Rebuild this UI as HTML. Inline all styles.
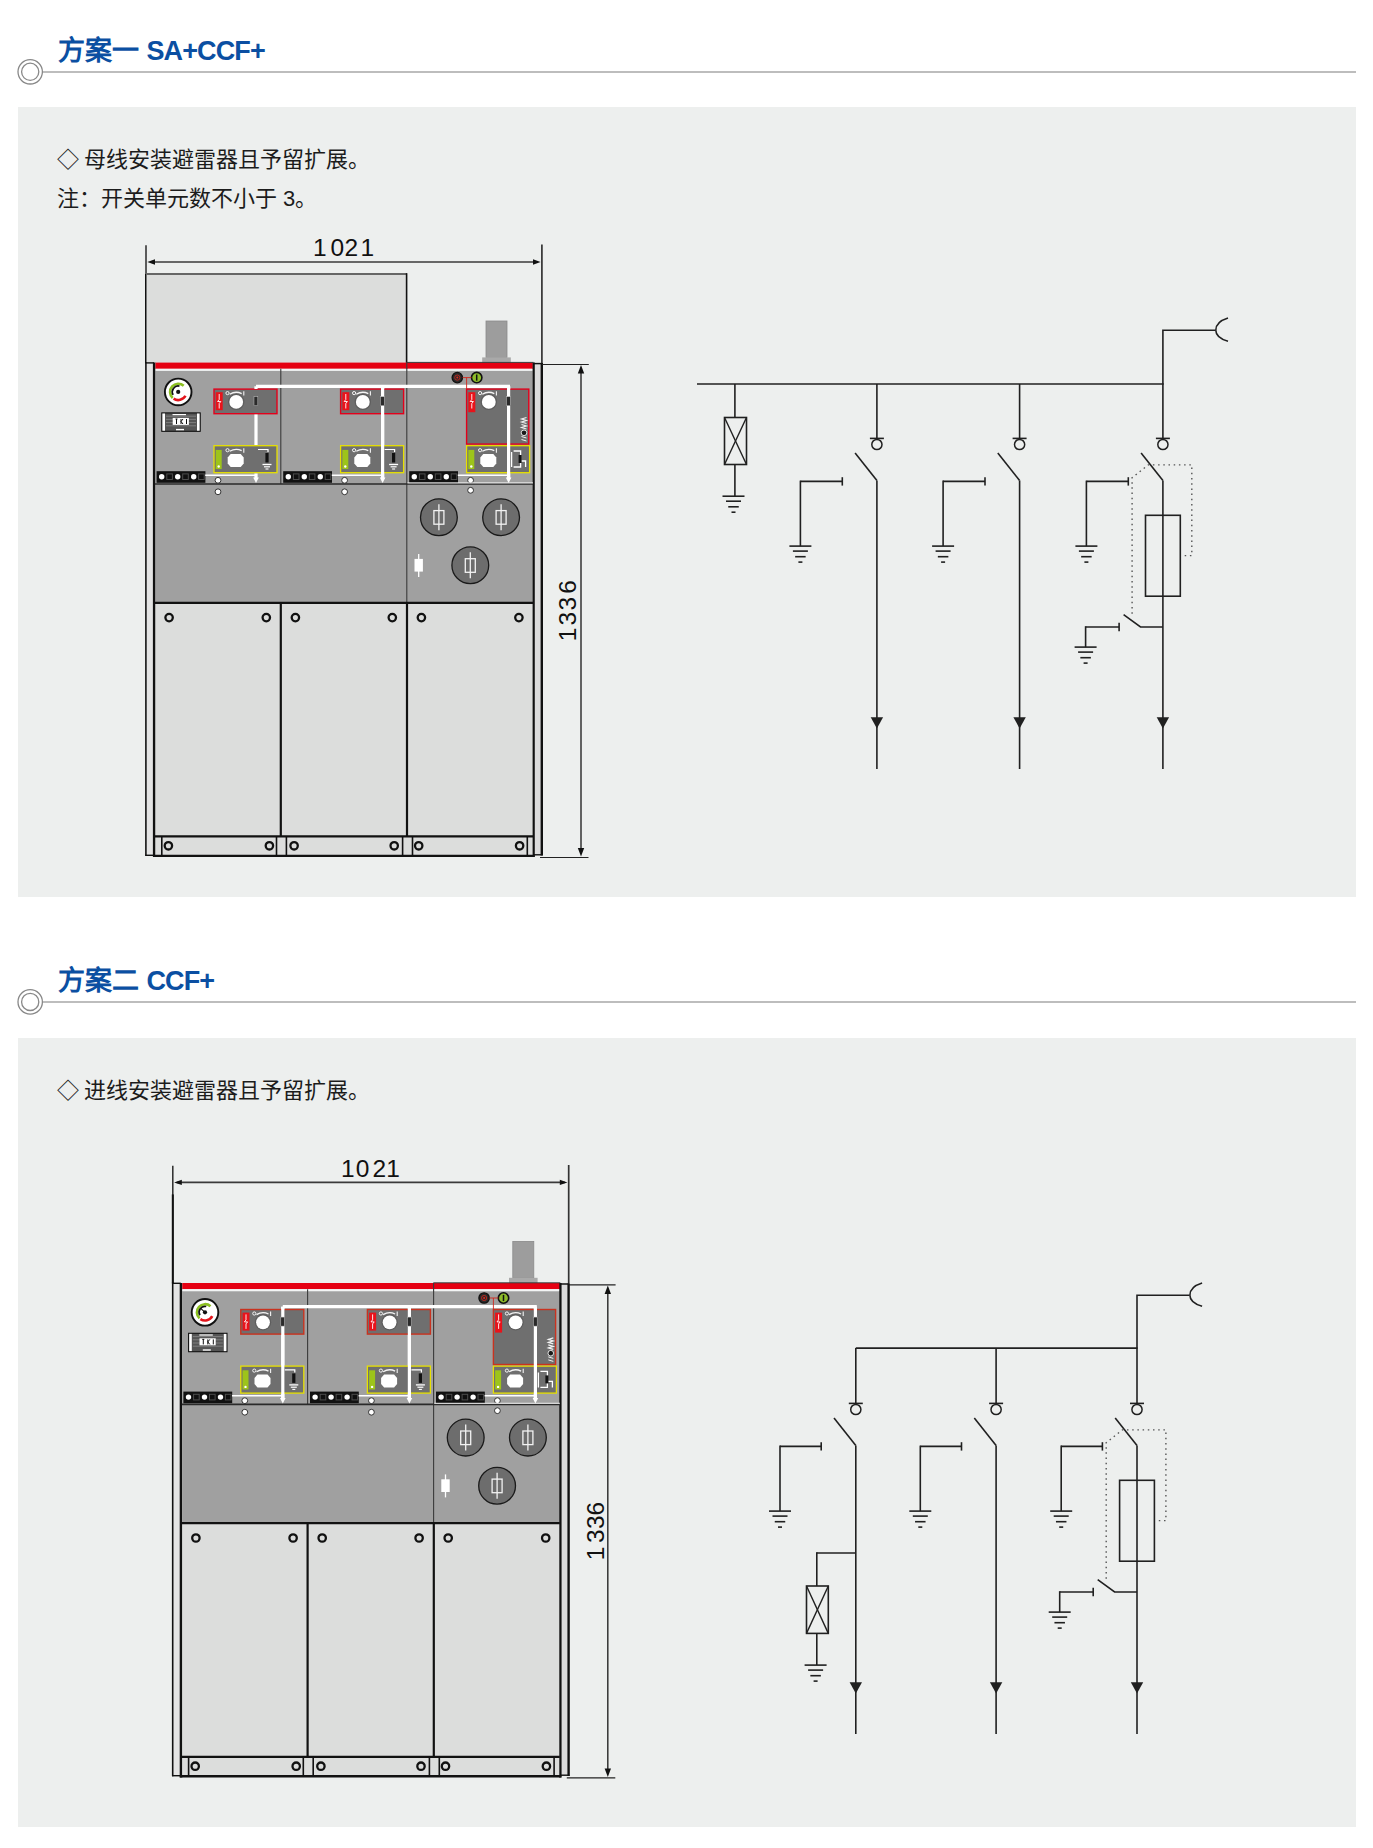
<!DOCTYPE html>
<html lang="zh-CN"><head><meta charset="utf-8"><title>方案</title>
<style>
html,body{margin:0;padding:0;background:#fff;}
body{width:1373px;height:1848px;position:relative;overflow:hidden;font-family:"Liberation Sans",sans-serif;}
.box{position:absolute;left:17.5px;width:1338.5px;background:#edefee;}
.hline{position:absolute;left:43px;width:1313px;height:2px;background:#bdbdbd;}
.title{position:absolute;left:58px;font-weight:bold;color:#0b4fa2;font-size:27px;line-height:30px;white-space:nowrap;}
.txt{position:absolute;left:57px;font-size:22px;line-height:24px;color:#1c1c1c;white-space:nowrap;}
.lt{letter-spacing:-0.9px;}
.dm{display:inline-block;width:27px;}
svg{position:absolute;left:0;top:0;}
</style></head><body>
<div class="box" style="top:107px;height:790px"></div>
<div class="box" style="top:1038px;height:789px"></div>
<div class="hline" style="top:71px"></div>
<div class="hline" style="top:1001px"></div>
<div class="title" style="top:36px">方案一 <span class="lt">SA+CCF+</span></div>
<div class="title" style="top:966px">方案二 <span class="lt">CCF+</span></div>
<div class="txt" style="top:148px"><span class="dm">◇</span>母线安装避雷器且予留扩展。</div>
<div class="txt" style="top:187px">注：开关单元数不小于 3。</div>
<div class="txt" style="top:1079px"><span class="dm">◇</span>进线安装避雷器且予留扩展。</div>
<svg width="1373" height="1848" viewBox="0 0 1373 1848" font-family="Liberation Sans, sans-serif">
<g fill="none" stroke="#888" stroke-width="1.3">
<circle cx="30.2" cy="71.8" r="12.2" fill="#fff"/><circle cx="30.2" cy="71.8" r="8.6"/>
<circle cx="30.2" cy="1001.9" r="12.2" fill="#fff"/><circle cx="30.2" cy="1001.9" r="8.6"/>
</g>
<g id="cab1"><line x1="146" y1="245.3" x2="146" y2="363" stroke="#2a2a2a" stroke-width="1.5"/><line x1="146" y1="274" x2="146" y2="363" stroke="#111" stroke-width="2"/><line x1="541.9" y1="244.6" x2="541.9" y2="363" stroke="#333" stroke-width="1.7"/><line x1="150" y1="262" x2="538" y2="262" stroke="#3a3a3a" stroke-width="1.6"/><path d="M147.3,262 L155,259.3 L155,264.7 Z" fill="#111"/><path d="M540.6,262 L533,259.3 L533,264.7 Z" fill="#111"/><rect x="146.5" y="274" width="260" height="89" fill="#dcdddc"/><line x1="146" y1="274" x2="407" y2="274" stroke="#666" stroke-width="1.9"/><line x1="406.6" y1="273.2" x2="406.6" y2="369" stroke="#111" stroke-width="1.6"/><line x1="406.8" y1="362.6" x2="406.8" y2="484" stroke="#333" stroke-width="1.2"/><rect x="486" y="321" width="21" height="36.4" fill="#9d9d9d" stroke="#8a8a8a" stroke-width="0.8"/><rect x="482.2" y="357.4" width="28.6" height="5.5" fill="#a9a9a9"/><rect x="146.6" y="362.8" width="6.4" height="492.6" fill="#e4e4e4"/><rect x="534.8" y="364.5" width="6" height="490.5" fill="#dcdcdc"/><line x1="533" y1="854.8" x2="542.6" y2="854.8" stroke="#111" stroke-width="1.4"/><line x1="145.9" y1="362.2" x2="145.9" y2="855.8" stroke="#111" stroke-width="1.6"/><line x1="145.2" y1="855.3" x2="154" y2="855.3" stroke="#111" stroke-width="1.4"/><line x1="145.2" y1="362.9" x2="154" y2="362.9" stroke="#111" stroke-width="1.4"/><line x1="154.2" y1="362.5" x2="154.2" y2="857" stroke="#111" stroke-width="2.6"/><line x1="533.5" y1="362.5" x2="533.5" y2="857" stroke="#111" stroke-width="2.6"/><line x1="541.8" y1="363" x2="541.8" y2="855.5" stroke="#111" stroke-width="2.4"/><line x1="533" y1="363.6" x2="542.5" y2="363.6" stroke="#111" stroke-width="1.5"/><rect x="155.5" y="362.6" width="377" height="6.2" fill="#e50012"/><line x1="406.5" y1="362.4" x2="533.5" y2="362.4" stroke="#3a3a3a" stroke-width="1"/><rect x="155.5" y="368.8" width="377" height="2.1" fill="#f3f5f5"/><rect x="155.5" y="370.9" width="377" height="231.6" fill="#a0a0a0"/><line x1="406.8" y1="362.6" x2="406.8" y2="602" stroke="#3a3a3a" stroke-width="1.1"/><line x1="280.8" y1="368.8" x2="280.8" y2="484" stroke="#3a3a3a" stroke-width="1.1"/><line x1="155" y1="484" x2="533" y2="484" stroke="#2a2a2a" stroke-width="1.6"/><rect x="155.5" y="603" width="377" height="252.8" fill="#dcdddc"/><line x1="155" y1="602.8" x2="533" y2="602.8" stroke="#111" stroke-width="2.2"/><line x1="280.8" y1="602.8" x2="280.8" y2="836.4" stroke="#111" stroke-width="2.2"/><line x1="407" y1="602.8" x2="407" y2="836.4" stroke="#111" stroke-width="2.2"/><circle cx="169.1" cy="617.6" r="3.7" fill="#dcdddc" stroke="#111" stroke-width="2.3"/><circle cx="266.3" cy="617.6" r="3.7" fill="#dcdddc" stroke="#111" stroke-width="2.3"/><circle cx="295.4" cy="617.6" r="3.7" fill="#dcdddc" stroke="#111" stroke-width="2.3"/><circle cx="392.3" cy="617.6" r="3.7" fill="#dcdddc" stroke="#111" stroke-width="2.3"/><circle cx="421.4" cy="617.6" r="3.7" fill="#dcdddc" stroke="#111" stroke-width="2.3"/><circle cx="518.9" cy="617.6" r="3.7" fill="#dcdddc" stroke="#111" stroke-width="2.3"/><line x1="155" y1="836.4" x2="533" y2="836.4" stroke="#111" stroke-width="2.2"/><line x1="153" y1="855.9" x2="534.5" y2="855.9" stroke="#111" stroke-width="2.4"/><line x1="161.8" y1="836.4" x2="161.8" y2="855.9" stroke="#111" stroke-width="1.6"/><line x1="276.5" y1="836.4" x2="276.5" y2="855.9" stroke="#111" stroke-width="1.6"/><line x1="286.4" y1="836.4" x2="286.4" y2="855.9" stroke="#111" stroke-width="1.6"/><line x1="402.6" y1="836.4" x2="402.6" y2="855.9" stroke="#111" stroke-width="1.6"/><line x1="412.5" y1="836.4" x2="412.5" y2="855.9" stroke="#111" stroke-width="1.6"/><line x1="527.3" y1="836.4" x2="527.3" y2="855.9" stroke="#111" stroke-width="1.6"/><circle cx="168.4" cy="845.8" r="3.7" fill="#dcdddc" stroke="#111" stroke-width="2.3"/><circle cx="269.4" cy="845.8" r="3.7" fill="#dcdddc" stroke="#111" stroke-width="2.3"/><circle cx="294.1" cy="845.8" r="3.7" fill="#dcdddc" stroke="#111" stroke-width="2.3"/><circle cx="394.2" cy="845.8" r="3.7" fill="#dcdddc" stroke="#111" stroke-width="2.3"/><circle cx="418.7" cy="845.8" r="3.7" fill="#dcdddc" stroke="#111" stroke-width="2.3"/><circle cx="519.6" cy="845.8" r="3.7" fill="#dcdddc" stroke="#111" stroke-width="2.3"/><line x1="542" y1="364.5" x2="588.8" y2="364.5" stroke="#222" stroke-width="1.2"/><line x1="540" y1="857.5" x2="588.5" y2="857.5" stroke="#222" stroke-width="1.2"/><line x1="581" y1="368" x2="581" y2="853" stroke="#333" stroke-width="1.5"/><path d="M581,365 L577.8,373.5 L584.2,373.5 Z" fill="#111"/><path d="M581,856.5 L577.8,848 L584.2,848 Z" fill="#111"/><line x1="256" y1="386.3" x2="510" y2="386.3" stroke="#fff" stroke-width="3.2"/><rect x="214" y="445.7" width="63" height="27" fill="#6f6f6f" stroke="#e6e000" stroke-width="1.3"/><rect x="214" y="389.1" width="63" height="24.6" fill="#6f6f6f" stroke="#e3001b" stroke-width="1.4"/><line x1="256" y1="386.3" x2="256" y2="389" stroke="#fff" stroke-width="3.2"/><line x1="256" y1="414.5" x2="256" y2="445" stroke="#fff" stroke-width="3.2"/><line x1="256" y1="473.5" x2="256" y2="479" stroke="#fff" stroke-width="3.2"/><path d="M253.2,477.5 L258.8,477.5 L256,483 Z" fill="#fff"/><rect x="254" y="396.7" width="3.8" height="9" fill="#2a2a2a" stroke="#bbb" stroke-width="0.5"/><rect x="215.7" y="392.2" width="7" height="18" fill="#e8131b"/><path d="M219.2,394 L219.2,399.5 L217.6,401.5 L220.8,401.5 L219.2,403.5 L219.2,408.5" fill="none" stroke="#fff" stroke-width="0.9"/><circle cx="236.2" cy="401.9" r="8.2" fill="#5e5e5e"/><circle cx="236.2" cy="401.9" r="6.9" fill="#fff"/><circle cx="227.5" cy="393.1" r="1.6" fill="none" stroke="#f4f4f4" stroke-width="1"/><path d="M229.7,394.2 Q235.7,390.6 241.7,393.6" fill="none" stroke="#f4f4f4" stroke-width="1.3"/><line x1="243.8" y1="391.2" x2="243.8" y2="395.6" stroke="#f4f4f4" stroke-width="1.1"/><rect x="215.7" y="449.9" width="6" height="19.2" fill="#9dc41a"/><circle cx="218.7" cy="466.5" r="1.2" fill="#fff"/><path d="M230.7,454.1 L240.7,454.1 L243.7,457.6 L243.7,463.6 L240.7,467.1 L230.7,467.1 L227.7,463.6 L227.7,457.6 Z" fill="#fff"/><circle cx="227.5" cy="450.2" r="1.6" fill="none" stroke="#f4f4f4" stroke-width="1"/><path d="M229.7,451.3 Q235.7,447.7 241.7,450.7" fill="none" stroke="#f4f4f4" stroke-width="1.3"/><line x1="243.8" y1="448.3" x2="243.8" y2="452.7" stroke="#f4f4f4" stroke-width="1.1"/><rect x="156.6" y="471.2" width="48.8" height="11.6" fill="#111"/><circle cx="161.7" cy="476.7" r="2.7" fill="#fff"/><rect x="166.3" y="473.4" width="6.6" height="6.6" fill="#4d4d4d"/><rect x="167.3" y="474.4" width="4.6" height="4.6" fill="#101010"/><circle cx="177.7" cy="476.7" r="2.7" fill="#fff"/><rect x="182.2" y="473.4" width="6.6" height="6.6" fill="#4d4d4d"/><rect x="183.2" y="474.4" width="4.6" height="4.6" fill="#101010"/><circle cx="193.7" cy="476.7" r="2.7" fill="#fff"/><rect x="198.1" y="473.4" width="6.6" height="6.6" fill="#4d4d4d"/><rect x="199.1" y="474.4" width="4.6" height="4.6" fill="#101010"/><line x1="205.2" y1="475.3" x2="256" y2="475.3" stroke="#fff" stroke-width="1.5"/><circle cx="218" cy="480.3" r="2.9" fill="#fff" stroke="#222" stroke-width="0.9"/><circle cx="218" cy="491.8" r="2.9" fill="#fff" stroke="#222" stroke-width="0.9"/><rect x="265.4" y="453" width="3.2" height="9.5" fill="#111"/><path d="M258,449.5 L268,449.5 L268,452" fill="none" stroke="#fff" stroke-width="1.2"/><line x1="262.5" y1="464.5" x2="271.5" y2="464.5" stroke="#fff" stroke-width="1.3"/><line x1="264" y1="466.8" x2="270" y2="466.8" stroke="#fff" stroke-width="1.2"/><line x1="265.5" y1="469" x2="268.5" y2="469" stroke="#fff" stroke-width="1.1"/><rect x="340.6" y="445.7" width="63" height="27" fill="#6f6f6f" stroke="#e6e000" stroke-width="1.3"/><rect x="340.6" y="389.1" width="63" height="24.6" fill="#6f6f6f" stroke="#e3001b" stroke-width="1.4"/><line x1="382.6" y1="386.3" x2="382.6" y2="389" stroke="#fff" stroke-width="3.2"/><line x1="382.6" y1="414.5" x2="382.6" y2="445" stroke="#fff" stroke-width="3.2"/><line x1="382.6" y1="473.5" x2="382.6" y2="479" stroke="#fff" stroke-width="3.2"/><line x1="382.6" y1="386.3" x2="382.6" y2="479" stroke="#fff" stroke-width="3.2"/><path d="M379.8,477.5 L385.4,477.5 L382.6,483 Z" fill="#fff"/><rect x="380.6" y="396.7" width="3.8" height="9" fill="#2a2a2a" stroke="#bbb" stroke-width="0.5"/><rect x="342.3" y="392.2" width="7" height="18" fill="#e8131b"/><path d="M345.8,394 L345.8,399.5 L344.2,401.5 L347.4,401.5 L345.8,403.5 L345.8,408.5" fill="none" stroke="#fff" stroke-width="0.9"/><circle cx="362.8" cy="401.9" r="8.2" fill="#5e5e5e"/><circle cx="362.8" cy="401.9" r="6.9" fill="#fff"/><circle cx="354.1" cy="393.1" r="1.6" fill="none" stroke="#f4f4f4" stroke-width="1"/><path d="M356.3,394.2 Q362.3,390.6 368.3,393.6" fill="none" stroke="#f4f4f4" stroke-width="1.3"/><line x1="370.4" y1="391.2" x2="370.4" y2="395.6" stroke="#f4f4f4" stroke-width="1.1"/><rect x="342.3" y="449.9" width="6" height="19.2" fill="#9dc41a"/><circle cx="345.3" cy="466.5" r="1.2" fill="#fff"/><path d="M357.3,454.1 L367.3,454.1 L370.3,457.6 L370.3,463.6 L367.3,467.1 L357.3,467.1 L354.3,463.6 L354.3,457.6 Z" fill="#fff"/><circle cx="354.1" cy="450.2" r="1.6" fill="none" stroke="#f4f4f4" stroke-width="1"/><path d="M356.3,451.3 Q362.3,447.7 368.3,450.7" fill="none" stroke="#f4f4f4" stroke-width="1.3"/><line x1="370.4" y1="448.3" x2="370.4" y2="452.7" stroke="#f4f4f4" stroke-width="1.1"/><rect x="283.2" y="471.2" width="48.8" height="11.6" fill="#111"/><circle cx="288.3" cy="476.7" r="2.7" fill="#fff"/><rect x="292.9" y="473.4" width="6.6" height="6.6" fill="#4d4d4d"/><rect x="293.9" y="474.4" width="4.6" height="4.6" fill="#101010"/><circle cx="304.3" cy="476.7" r="2.7" fill="#fff"/><rect x="308.8" y="473.4" width="6.6" height="6.6" fill="#4d4d4d"/><rect x="309.8" y="474.4" width="4.6" height="4.6" fill="#101010"/><circle cx="320.3" cy="476.7" r="2.7" fill="#fff"/><rect x="324.7" y="473.4" width="6.6" height="6.6" fill="#4d4d4d"/><rect x="325.7" y="474.4" width="4.6" height="4.6" fill="#101010"/><line x1="331.8" y1="475.3" x2="382.6" y2="475.3" stroke="#fff" stroke-width="1.5"/><circle cx="344.6" cy="480.3" r="2.9" fill="#fff" stroke="#222" stroke-width="0.9"/><circle cx="344.6" cy="491.8" r="2.9" fill="#fff" stroke="#222" stroke-width="0.9"/><rect x="392" y="453" width="3.2" height="9.5" fill="#111"/><path d="M384.6,449.5 L394.6,449.5 L394.6,452" fill="none" stroke="#fff" stroke-width="1.2"/><line x1="389.1" y1="464.5" x2="398.1" y2="464.5" stroke="#fff" stroke-width="1.3"/><line x1="390.6" y1="466.8" x2="396.6" y2="466.8" stroke="#fff" stroke-width="1.2"/><line x1="392.1" y1="469" x2="395.1" y2="469" stroke="#fff" stroke-width="1.1"/><rect x="466.6" y="445.7" width="63" height="27" fill="#6f6f6f" stroke="#e6e000" stroke-width="1.3"/><rect x="466.6" y="389.1" width="62.2" height="55" fill="#6f6f6f" stroke="#e3001b" stroke-width="1.4"/><line x1="508.6" y1="386.3" x2="508.6" y2="389" stroke="#fff" stroke-width="3.2"/><line x1="508.6" y1="473.5" x2="508.6" y2="479" stroke="#fff" stroke-width="3.2"/><line x1="508.6" y1="386.3" x2="508.6" y2="479" stroke="#fff" stroke-width="3.2"/><path d="M505.8,477.5 L511.4,477.5 L508.6,483 Z" fill="#fff"/><rect x="506.6" y="396.7" width="3.8" height="9" fill="#2a2a2a" stroke="#bbb" stroke-width="0.5"/><rect x="468.3" y="392.2" width="7" height="20" fill="#e8131b"/><path d="M471.8,394 L471.8,399.5 L470.2,401.5 L473.4,401.5 L471.8,403.5 L471.8,408.5" fill="none" stroke="#fff" stroke-width="0.9"/><circle cx="488.8" cy="401.9" r="8.2" fill="#5e5e5e"/><circle cx="488.8" cy="401.9" r="6.9" fill="#fff"/><circle cx="480.1" cy="393.1" r="1.6" fill="none" stroke="#f4f4f4" stroke-width="1"/><path d="M482.3,394.2 Q488.3,390.6 494.3,393.6" fill="none" stroke="#f4f4f4" stroke-width="1.3"/><line x1="496.4" y1="391.2" x2="496.4" y2="395.6" stroke="#f4f4f4" stroke-width="1.1"/><rect x="468.3" y="449.9" width="6" height="19.2" fill="#9dc41a"/><circle cx="471.3" cy="466.5" r="1.2" fill="#fff"/><path d="M483.3,454.1 L493.3,454.1 L496.3,457.6 L496.3,463.6 L493.3,467.1 L483.3,467.1 L480.3,463.6 L480.3,457.6 Z" fill="#fff"/><circle cx="480.1" cy="450.2" r="1.6" fill="none" stroke="#f4f4f4" stroke-width="1"/><path d="M482.3,451.3 Q488.3,447.7 494.3,450.7" fill="none" stroke="#f4f4f4" stroke-width="1.3"/><line x1="496.4" y1="448.3" x2="496.4" y2="452.7" stroke="#f4f4f4" stroke-width="1.1"/><rect x="409.2" y="471.2" width="48.8" height="11.6" fill="#111"/><circle cx="414.3" cy="476.7" r="2.7" fill="#fff"/><rect x="418.9" y="473.4" width="6.6" height="6.6" fill="#4d4d4d"/><rect x="419.9" y="474.4" width="4.6" height="4.6" fill="#101010"/><circle cx="430.3" cy="476.7" r="2.7" fill="#fff"/><rect x="434.8" y="473.4" width="6.6" height="6.6" fill="#4d4d4d"/><rect x="435.8" y="474.4" width="4.6" height="4.6" fill="#101010"/><circle cx="446.3" cy="476.7" r="2.7" fill="#fff"/><rect x="450.7" y="473.4" width="6.6" height="6.6" fill="#4d4d4d"/><rect x="451.7" y="474.4" width="4.6" height="4.6" fill="#101010"/><line x1="457.8" y1="475.3" x2="508.6" y2="475.3" stroke="#fff" stroke-width="1.5"/><circle cx="470.6" cy="480.3" r="2.9" fill="#fff" stroke="#222" stroke-width="0.9"/><circle cx="470.6" cy="490.3" r="2.9" fill="#fff" stroke="#222" stroke-width="0.9"/><path d="M511.6,452 L511.6,467 M513.6,451 L520.6,451 L520.6,467 L513.6,467 M520.6,461 L525.6,461 L525.6,467" fill="none" stroke="#fff" stroke-width="1.3"/><rect x="518.6" y="455" width="3" height="8" fill="#111"/><circle cx="178.2" cy="391.9" r="13.3" fill="#fff" stroke="#111" stroke-width="1.9"/><path d="M183.69,385.81 A8.2,8.2 0 0 0 172.71,397.99" fill="none" stroke="#8cc021" stroke-width="2.6"/><path d="M173.61,398.7 A8.2,8.2 0 0 0 185.44,395.75" fill="none" stroke="#e3141b" stroke-width="2.6"/><path d="M179.43,386.13 A5.9,5.9 0 0 0 173.09,394.85" fill="none" stroke="#111" stroke-width="1.7"/><circle cx="178.2" cy="391.9" r="2.1" fill="#111"/><rect x="161.8" y="412.9" width="38.4" height="18.4" fill="#555" stroke="#111" stroke-width="1.1"/><rect x="162.4" y="413.5" width="2.6" height="17.2" fill="#fff"/><rect x="197" y="413.5" width="2.6" height="17.2" fill="#fff"/><line x1="166" y1="416.2" x2="196" y2="416.2" stroke="#8a8a8a" stroke-width="0.8"/><line x1="166" y1="419.4" x2="196" y2="419.4" stroke="#8a8a8a" stroke-width="0.8"/><line x1="166" y1="422.6" x2="196" y2="422.6" stroke="#8a8a8a" stroke-width="0.8"/><line x1="166" y1="425.8" x2="196" y2="425.8" stroke="#8a8a8a" stroke-width="0.8"/><rect x="172.7" y="417.9" width="16.2" height="7" fill="#fff"/><path d="M175.5,419 L177.5,419 M176.5,419 L176.5,424 M181,419 L181,424 M181,421.5 L183,419 M181,421.5 L183,424 M186.5,419 L186.5,424" fill="none" stroke="#111" stroke-width="1"/><line x1="172.5" y1="414.6" x2="186" y2="414.6" stroke="#fff" stroke-width="1.2"/><line x1="176" y1="429.6" x2="184" y2="429.6" stroke="#fff" stroke-width="1.4"/><circle cx="457.3" cy="377.6" r="5.2" fill="#2a2a2a" stroke="#111" stroke-width="1.3"/><circle cx="457.3" cy="377.6" r="2.6" fill="none" stroke="#d2261c" stroke-width="0.8"/><circle cx="457.3" cy="377.6" r="1" fill="#e2261c"/><circle cx="476.7" cy="377.6" r="5.2" fill="#8dbb2a" stroke="#111" stroke-width="1.6"/><line x1="476.7" y1="374.5" x2="476.7" y2="380.7" stroke="#111" stroke-width="1.5"/><line x1="462.5" y1="377.6" x2="471.5" y2="377.6" stroke="#d2261c" stroke-width="0.9"/><line x1="466.6" y1="377.6" x2="466.6" y2="389" stroke="#d2261c" stroke-width="0.9"/><line x1="407.5" y1="482.9" x2="533" y2="482.9" stroke="#f4f4f4" stroke-width="1"/><path d="M526.5,417.5 L521.5,419 L526.5,420.5 L521.5,422 L526.5,423.5 M521.5,424.5 L526.5,426 L521.5,427.5 L526.5,429" fill="none" stroke="#f2f2f2" stroke-width="1.1"/><circle cx="524" cy="432.8" r="2.8" fill="#1a1a1a" stroke="#f2f2f2" stroke-width="0.9"/><path d="M521.5,436.5 L526.5,438 M521.5,439.5 L526.5,441" fill="none" stroke="#f2f2f2" stroke-width="1"/><circle cx="438.9" cy="517.2" r="18.4" fill="#6d6d6d" stroke="#1a1a1a" stroke-width="1.3"/><rect x="433.9" y="510.6" width="10" height="13.6" fill="none" stroke="#f2f2f2" stroke-width="1.3"/><line x1="438.9" y1="504.2" x2="438.9" y2="530.2" stroke="#f2f2f2" stroke-width="1.3"/><circle cx="501.1" cy="517.2" r="18.4" fill="#6d6d6d" stroke="#1a1a1a" stroke-width="1.3"/><rect x="496.1" y="510.6" width="10" height="13.6" fill="none" stroke="#f2f2f2" stroke-width="1.3"/><line x1="501.1" y1="504.2" x2="501.1" y2="530.2" stroke="#f2f2f2" stroke-width="1.3"/><circle cx="470.3" cy="565.3" r="18.4" fill="#6d6d6d" stroke="#1a1a1a" stroke-width="1.3"/><rect x="465.3" y="558.7" width="10" height="13.6" fill="none" stroke="#f2f2f2" stroke-width="1.3"/><line x1="470.3" y1="552.3" x2="470.3" y2="578.3" stroke="#f2f2f2" stroke-width="1.3"/><rect x="414.5" y="558.9" width="8.4" height="12.7" fill="#fff"/><line x1="418.7" y1="554" x2="418.7" y2="577" stroke="#fff" stroke-width="1.3"/>
</g>
<g id="cab2" transform="translate(26.8,920.4)"><line x1="146" y1="245.3" x2="146" y2="363" stroke="#2a2a2a" stroke-width="1.5"/><line x1="146" y1="274" x2="146" y2="363" stroke="#111" stroke-width="2"/><line x1="541.9" y1="244.6" x2="541.9" y2="363" stroke="#333" stroke-width="1.7"/><line x1="150" y1="262" x2="538" y2="262" stroke="#3a3a3a" stroke-width="1.6"/><path d="M147.3,262 L155,259.3 L155,264.7 Z" fill="#111"/><path d="M540.6,262 L533,259.3 L533,264.7 Z" fill="#111"/><line x1="406.8" y1="362.6" x2="406.8" y2="484" stroke="#333" stroke-width="1.2"/><rect x="486" y="321" width="21" height="36.4" fill="#9d9d9d" stroke="#8a8a8a" stroke-width="0.8"/><rect x="482.2" y="357.4" width="28.6" height="5.5" fill="#a9a9a9"/><rect x="146.6" y="362.8" width="6.4" height="492.6" fill="#e4e4e4"/><rect x="534.8" y="364.5" width="6" height="490.5" fill="#dcdcdc"/><line x1="533" y1="854.8" x2="542.6" y2="854.8" stroke="#111" stroke-width="1.4"/><line x1="145.9" y1="362.2" x2="145.9" y2="855.8" stroke="#111" stroke-width="1.6"/><line x1="145.2" y1="855.3" x2="154" y2="855.3" stroke="#111" stroke-width="1.4"/><line x1="145.2" y1="362.9" x2="154" y2="362.9" stroke="#111" stroke-width="1.4"/><line x1="154.2" y1="362.5" x2="154.2" y2="857" stroke="#111" stroke-width="2.6"/><line x1="533.5" y1="362.5" x2="533.5" y2="857" stroke="#111" stroke-width="2.6"/><line x1="541.8" y1="363" x2="541.8" y2="855.5" stroke="#111" stroke-width="2.4"/><line x1="533" y1="363.6" x2="542.5" y2="363.6" stroke="#111" stroke-width="1.5"/><rect x="155.5" y="362.6" width="377" height="6.2" fill="#e50012"/><line x1="406.5" y1="362.4" x2="533.5" y2="362.4" stroke="#3a3a3a" stroke-width="1"/><rect x="155.5" y="368.8" width="377" height="2.1" fill="#f3f5f5"/><rect x="155.5" y="370.9" width="377" height="231.6" fill="#a0a0a0"/><line x1="406.8" y1="362.6" x2="406.8" y2="602" stroke="#3a3a3a" stroke-width="1.1"/><line x1="280.8" y1="368.8" x2="280.8" y2="484" stroke="#3a3a3a" stroke-width="1.1"/><line x1="155" y1="484" x2="533" y2="484" stroke="#2a2a2a" stroke-width="1.6"/><rect x="155.5" y="603" width="377" height="252.8" fill="#dcdddc"/><line x1="155" y1="602.8" x2="533" y2="602.8" stroke="#111" stroke-width="2.2"/><line x1="280.8" y1="602.8" x2="280.8" y2="836.4" stroke="#111" stroke-width="2.2"/><line x1="407" y1="602.8" x2="407" y2="836.4" stroke="#111" stroke-width="2.2"/><circle cx="169.1" cy="617.6" r="3.7" fill="#dcdddc" stroke="#111" stroke-width="2.3"/><circle cx="266.3" cy="617.6" r="3.7" fill="#dcdddc" stroke="#111" stroke-width="2.3"/><circle cx="295.4" cy="617.6" r="3.7" fill="#dcdddc" stroke="#111" stroke-width="2.3"/><circle cx="392.3" cy="617.6" r="3.7" fill="#dcdddc" stroke="#111" stroke-width="2.3"/><circle cx="421.4" cy="617.6" r="3.7" fill="#dcdddc" stroke="#111" stroke-width="2.3"/><circle cx="518.9" cy="617.6" r="3.7" fill="#dcdddc" stroke="#111" stroke-width="2.3"/><line x1="155" y1="836.4" x2="533" y2="836.4" stroke="#111" stroke-width="2.2"/><line x1="153" y1="855.9" x2="534.5" y2="855.9" stroke="#111" stroke-width="2.4"/><line x1="161.8" y1="836.4" x2="161.8" y2="855.9" stroke="#111" stroke-width="1.6"/><line x1="276.5" y1="836.4" x2="276.5" y2="855.9" stroke="#111" stroke-width="1.6"/><line x1="286.4" y1="836.4" x2="286.4" y2="855.9" stroke="#111" stroke-width="1.6"/><line x1="402.6" y1="836.4" x2="402.6" y2="855.9" stroke="#111" stroke-width="1.6"/><line x1="412.5" y1="836.4" x2="412.5" y2="855.9" stroke="#111" stroke-width="1.6"/><line x1="527.3" y1="836.4" x2="527.3" y2="855.9" stroke="#111" stroke-width="1.6"/><circle cx="168.4" cy="845.8" r="3.7" fill="#dcdddc" stroke="#111" stroke-width="2.3"/><circle cx="269.4" cy="845.8" r="3.7" fill="#dcdddc" stroke="#111" stroke-width="2.3"/><circle cx="294.1" cy="845.8" r="3.7" fill="#dcdddc" stroke="#111" stroke-width="2.3"/><circle cx="394.2" cy="845.8" r="3.7" fill="#dcdddc" stroke="#111" stroke-width="2.3"/><circle cx="418.7" cy="845.8" r="3.7" fill="#dcdddc" stroke="#111" stroke-width="2.3"/><circle cx="519.6" cy="845.8" r="3.7" fill="#dcdddc" stroke="#111" stroke-width="2.3"/><line x1="542" y1="364.5" x2="588.8" y2="364.5" stroke="#222" stroke-width="1.2"/><line x1="540" y1="857.5" x2="588.5" y2="857.5" stroke="#222" stroke-width="1.2"/><line x1="581" y1="368" x2="581" y2="853" stroke="#333" stroke-width="1.5"/><path d="M581,365 L577.8,373.5 L584.2,373.5 Z" fill="#111"/><path d="M581,856.5 L577.8,848 L584.2,848 Z" fill="#111"/><line x1="256" y1="386.3" x2="510" y2="386.3" stroke="#fff" stroke-width="3.2"/><rect x="214" y="445.7" width="63" height="27" fill="#6f6f6f" stroke="#e6e000" stroke-width="1.3"/><rect x="214" y="389.1" width="63" height="24.6" fill="#6f6f6f" stroke="#c9321f" stroke-width="1.4"/><line x1="256" y1="386.3" x2="256" y2="389" stroke="#fff" stroke-width="3.2"/><line x1="256" y1="414.5" x2="256" y2="445" stroke="#fff" stroke-width="3.2"/><line x1="256" y1="473.5" x2="256" y2="479" stroke="#fff" stroke-width="3.2"/><line x1="256" y1="386.3" x2="256" y2="479" stroke="#fff" stroke-width="3.2"/><path d="M253.2,477.5 L258.8,477.5 L256,483 Z" fill="#fff"/><rect x="254" y="396.7" width="3.8" height="9" fill="#2a2a2a" stroke="#bbb" stroke-width="0.5"/><rect x="215.7" y="392.2" width="7" height="18" fill="#e8131b"/><path d="M219.2,394 L219.2,399.5 L217.6,401.5 L220.8,401.5 L219.2,403.5 L219.2,408.5" fill="none" stroke="#fff" stroke-width="0.9"/><circle cx="236.2" cy="401.9" r="8.2" fill="#5e5e5e"/><circle cx="236.2" cy="401.9" r="6.9" fill="#fff"/><circle cx="227.5" cy="393.1" r="1.6" fill="none" stroke="#f4f4f4" stroke-width="1"/><path d="M229.7,394.2 Q235.7,390.6 241.7,393.6" fill="none" stroke="#f4f4f4" stroke-width="1.3"/><line x1="243.8" y1="391.2" x2="243.8" y2="395.6" stroke="#f4f4f4" stroke-width="1.1"/><rect x="215.7" y="449.9" width="6" height="19.2" fill="#9dc41a"/><circle cx="218.7" cy="466.5" r="1.2" fill="#fff"/><path d="M230.7,454.1 L240.7,454.1 L243.7,457.6 L243.7,463.6 L240.7,467.1 L230.7,467.1 L227.7,463.6 L227.7,457.6 Z" fill="#fff"/><circle cx="227.5" cy="450.2" r="1.6" fill="none" stroke="#f4f4f4" stroke-width="1"/><path d="M229.7,451.3 Q235.7,447.7 241.7,450.7" fill="none" stroke="#f4f4f4" stroke-width="1.3"/><line x1="243.8" y1="448.3" x2="243.8" y2="452.7" stroke="#f4f4f4" stroke-width="1.1"/><rect x="156.6" y="471.2" width="48.8" height="11.6" fill="#111"/><circle cx="161.7" cy="476.7" r="2.7" fill="#fff"/><rect x="166.3" y="473.4" width="6.6" height="6.6" fill="#4d4d4d"/><rect x="167.3" y="474.4" width="4.6" height="4.6" fill="#101010"/><circle cx="177.7" cy="476.7" r="2.7" fill="#fff"/><rect x="182.2" y="473.4" width="6.6" height="6.6" fill="#4d4d4d"/><rect x="183.2" y="474.4" width="4.6" height="4.6" fill="#101010"/><circle cx="193.7" cy="476.7" r="2.7" fill="#fff"/><rect x="198.1" y="473.4" width="6.6" height="6.6" fill="#4d4d4d"/><rect x="199.1" y="474.4" width="4.6" height="4.6" fill="#101010"/><line x1="205.2" y1="475.3" x2="256" y2="475.3" stroke="#fff" stroke-width="1.5"/><circle cx="218" cy="480.3" r="2.9" fill="#fff" stroke="#222" stroke-width="0.9"/><circle cx="218" cy="491.8" r="2.9" fill="#fff" stroke="#222" stroke-width="0.9"/><rect x="265.4" y="453" width="3.2" height="9.5" fill="#111"/><path d="M258,449.5 L268,449.5 L268,452" fill="none" stroke="#fff" stroke-width="1.2"/><line x1="262.5" y1="464.5" x2="271.5" y2="464.5" stroke="#fff" stroke-width="1.3"/><line x1="264" y1="466.8" x2="270" y2="466.8" stroke="#fff" stroke-width="1.2"/><line x1="265.5" y1="469" x2="268.5" y2="469" stroke="#fff" stroke-width="1.1"/><rect x="340.6" y="445.7" width="63" height="27" fill="#6f6f6f" stroke="#e6e000" stroke-width="1.3"/><rect x="340.6" y="389.1" width="63" height="24.6" fill="#6f6f6f" stroke="#c9321f" stroke-width="1.4"/><line x1="382.6" y1="386.3" x2="382.6" y2="389" stroke="#fff" stroke-width="3.2"/><line x1="382.6" y1="414.5" x2="382.6" y2="445" stroke="#fff" stroke-width="3.2"/><line x1="382.6" y1="473.5" x2="382.6" y2="479" stroke="#fff" stroke-width="3.2"/><line x1="382.6" y1="386.3" x2="382.6" y2="479" stroke="#fff" stroke-width="3.2"/><path d="M379.8,477.5 L385.4,477.5 L382.6,483 Z" fill="#fff"/><rect x="380.6" y="396.7" width="3.8" height="9" fill="#2a2a2a" stroke="#bbb" stroke-width="0.5"/><rect x="342.3" y="392.2" width="7" height="18" fill="#e8131b"/><path d="M345.8,394 L345.8,399.5 L344.2,401.5 L347.4,401.5 L345.8,403.5 L345.8,408.5" fill="none" stroke="#fff" stroke-width="0.9"/><circle cx="362.8" cy="401.9" r="8.2" fill="#5e5e5e"/><circle cx="362.8" cy="401.9" r="6.9" fill="#fff"/><circle cx="354.1" cy="393.1" r="1.6" fill="none" stroke="#f4f4f4" stroke-width="1"/><path d="M356.3,394.2 Q362.3,390.6 368.3,393.6" fill="none" stroke="#f4f4f4" stroke-width="1.3"/><line x1="370.4" y1="391.2" x2="370.4" y2="395.6" stroke="#f4f4f4" stroke-width="1.1"/><rect x="342.3" y="449.9" width="6" height="19.2" fill="#9dc41a"/><circle cx="345.3" cy="466.5" r="1.2" fill="#fff"/><path d="M357.3,454.1 L367.3,454.1 L370.3,457.6 L370.3,463.6 L367.3,467.1 L357.3,467.1 L354.3,463.6 L354.3,457.6 Z" fill="#fff"/><circle cx="354.1" cy="450.2" r="1.6" fill="none" stroke="#f4f4f4" stroke-width="1"/><path d="M356.3,451.3 Q362.3,447.7 368.3,450.7" fill="none" stroke="#f4f4f4" stroke-width="1.3"/><line x1="370.4" y1="448.3" x2="370.4" y2="452.7" stroke="#f4f4f4" stroke-width="1.1"/><rect x="283.2" y="471.2" width="48.8" height="11.6" fill="#111"/><circle cx="288.3" cy="476.7" r="2.7" fill="#fff"/><rect x="292.9" y="473.4" width="6.6" height="6.6" fill="#4d4d4d"/><rect x="293.9" y="474.4" width="4.6" height="4.6" fill="#101010"/><circle cx="304.3" cy="476.7" r="2.7" fill="#fff"/><rect x="308.8" y="473.4" width="6.6" height="6.6" fill="#4d4d4d"/><rect x="309.8" y="474.4" width="4.6" height="4.6" fill="#101010"/><circle cx="320.3" cy="476.7" r="2.7" fill="#fff"/><rect x="324.7" y="473.4" width="6.6" height="6.6" fill="#4d4d4d"/><rect x="325.7" y="474.4" width="4.6" height="4.6" fill="#101010"/><line x1="331.8" y1="475.3" x2="382.6" y2="475.3" stroke="#fff" stroke-width="1.5"/><circle cx="344.6" cy="480.3" r="2.9" fill="#fff" stroke="#222" stroke-width="0.9"/><circle cx="344.6" cy="491.8" r="2.9" fill="#fff" stroke="#222" stroke-width="0.9"/><rect x="392" y="453" width="3.2" height="9.5" fill="#111"/><path d="M384.6,449.5 L394.6,449.5 L394.6,452" fill="none" stroke="#fff" stroke-width="1.2"/><line x1="389.1" y1="464.5" x2="398.1" y2="464.5" stroke="#fff" stroke-width="1.3"/><line x1="390.6" y1="466.8" x2="396.6" y2="466.8" stroke="#fff" stroke-width="1.2"/><line x1="392.1" y1="469" x2="395.1" y2="469" stroke="#fff" stroke-width="1.1"/><rect x="466.6" y="445.7" width="63" height="27" fill="#6f6f6f" stroke="#e6e000" stroke-width="1.3"/><rect x="466.6" y="389.1" width="62.2" height="55" fill="#6f6f6f" stroke="#c9321f" stroke-width="1.4"/><line x1="508.6" y1="386.3" x2="508.6" y2="389" stroke="#fff" stroke-width="3.2"/><line x1="508.6" y1="473.5" x2="508.6" y2="479" stroke="#fff" stroke-width="3.2"/><line x1="508.6" y1="386.3" x2="508.6" y2="479" stroke="#fff" stroke-width="3.2"/><path d="M505.8,477.5 L511.4,477.5 L508.6,483 Z" fill="#fff"/><rect x="506.6" y="396.7" width="3.8" height="9" fill="#2a2a2a" stroke="#bbb" stroke-width="0.5"/><rect x="468.3" y="392.2" width="7" height="20" fill="#e8131b"/><path d="M471.8,394 L471.8,399.5 L470.2,401.5 L473.4,401.5 L471.8,403.5 L471.8,408.5" fill="none" stroke="#fff" stroke-width="0.9"/><circle cx="488.8" cy="401.9" r="8.2" fill="#5e5e5e"/><circle cx="488.8" cy="401.9" r="6.9" fill="#fff"/><circle cx="480.1" cy="393.1" r="1.6" fill="none" stroke="#f4f4f4" stroke-width="1"/><path d="M482.3,394.2 Q488.3,390.6 494.3,393.6" fill="none" stroke="#f4f4f4" stroke-width="1.3"/><line x1="496.4" y1="391.2" x2="496.4" y2="395.6" stroke="#f4f4f4" stroke-width="1.1"/><rect x="468.3" y="449.9" width="6" height="19.2" fill="#9dc41a"/><circle cx="471.3" cy="466.5" r="1.2" fill="#fff"/><path d="M483.3,454.1 L493.3,454.1 L496.3,457.6 L496.3,463.6 L493.3,467.1 L483.3,467.1 L480.3,463.6 L480.3,457.6 Z" fill="#fff"/><circle cx="480.1" cy="450.2" r="1.6" fill="none" stroke="#f4f4f4" stroke-width="1"/><path d="M482.3,451.3 Q488.3,447.7 494.3,450.7" fill="none" stroke="#f4f4f4" stroke-width="1.3"/><line x1="496.4" y1="448.3" x2="496.4" y2="452.7" stroke="#f4f4f4" stroke-width="1.1"/><rect x="409.2" y="471.2" width="48.8" height="11.6" fill="#111"/><circle cx="414.3" cy="476.7" r="2.7" fill="#fff"/><rect x="418.9" y="473.4" width="6.6" height="6.6" fill="#4d4d4d"/><rect x="419.9" y="474.4" width="4.6" height="4.6" fill="#101010"/><circle cx="430.3" cy="476.7" r="2.7" fill="#fff"/><rect x="434.8" y="473.4" width="6.6" height="6.6" fill="#4d4d4d"/><rect x="435.8" y="474.4" width="4.6" height="4.6" fill="#101010"/><circle cx="446.3" cy="476.7" r="2.7" fill="#fff"/><rect x="450.7" y="473.4" width="6.6" height="6.6" fill="#4d4d4d"/><rect x="451.7" y="474.4" width="4.6" height="4.6" fill="#101010"/><line x1="457.8" y1="475.3" x2="508.6" y2="475.3" stroke="#fff" stroke-width="1.5"/><circle cx="470.6" cy="480.3" r="2.9" fill="#fff" stroke="#222" stroke-width="0.9"/><circle cx="470.6" cy="490.3" r="2.9" fill="#fff" stroke="#222" stroke-width="0.9"/><path d="M511.6,452 L511.6,467 M513.6,451 L520.6,451 L520.6,467 L513.6,467 M520.6,461 L525.6,461 L525.6,467" fill="none" stroke="#fff" stroke-width="1.3"/><rect x="518.6" y="455" width="3" height="8" fill="#111"/><circle cx="178.2" cy="391.9" r="13.3" fill="#fff" stroke="#111" stroke-width="1.9"/><path d="M183.69,385.81 A8.2,8.2 0 0 0 172.71,397.99" fill="none" stroke="#8cc021" stroke-width="2.6"/><path d="M173.61,398.7 A8.2,8.2 0 0 0 185.44,395.75" fill="none" stroke="#e3141b" stroke-width="2.6"/><path d="M179.43,386.13 A5.9,5.9 0 0 0 173.09,394.85" fill="none" stroke="#111" stroke-width="1.7"/><line x1="178.2" y1="391.9" x2="173.6" y2="387.7" stroke="#111" stroke-width="1.1"/><circle cx="178.2" cy="391.9" r="2.1" fill="#111"/><rect x="161.8" y="412.9" width="38.4" height="18.4" fill="#555" stroke="#111" stroke-width="1.1"/><rect x="162.4" y="413.5" width="2.6" height="17.2" fill="#fff"/><rect x="197" y="413.5" width="2.6" height="17.2" fill="#fff"/><line x1="166" y1="416.2" x2="196" y2="416.2" stroke="#8a8a8a" stroke-width="0.8"/><line x1="166" y1="419.4" x2="196" y2="419.4" stroke="#8a8a8a" stroke-width="0.8"/><line x1="166" y1="422.6" x2="196" y2="422.6" stroke="#8a8a8a" stroke-width="0.8"/><line x1="166" y1="425.8" x2="196" y2="425.8" stroke="#8a8a8a" stroke-width="0.8"/><rect x="172.7" y="417.9" width="16.2" height="7" fill="#fff"/><path d="M175.5,419 L177.5,419 M176.5,419 L176.5,424 M181,419 L181,424 M181,421.5 L183,419 M181,421.5 L183,424 M186.5,419 L186.5,424" fill="none" stroke="#111" stroke-width="1"/><line x1="172.5" y1="414.6" x2="186" y2="414.6" stroke="#fff" stroke-width="1.2"/><line x1="176" y1="429.6" x2="184" y2="429.6" stroke="#fff" stroke-width="1.4"/><circle cx="457.3" cy="377.6" r="5.2" fill="#2a2a2a" stroke="#111" stroke-width="1.3"/><circle cx="457.3" cy="377.6" r="2.6" fill="none" stroke="#d2261c" stroke-width="0.8"/><circle cx="457.3" cy="377.6" r="1" fill="#e2261c"/><circle cx="476.7" cy="377.6" r="5.2" fill="#8dbb2a" stroke="#111" stroke-width="1.6"/><line x1="476.7" y1="374.5" x2="476.7" y2="380.7" stroke="#111" stroke-width="1.5"/><line x1="462.5" y1="377.6" x2="471.5" y2="377.6" stroke="#d2261c" stroke-width="0.9"/><line x1="466.6" y1="377.6" x2="466.6" y2="389" stroke="#d2261c" stroke-width="0.9"/><line x1="407.5" y1="482.9" x2="533" y2="482.9" stroke="#f4f4f4" stroke-width="1"/><path d="M526.5,417.5 L521.5,419 L526.5,420.5 L521.5,422 L526.5,423.5 M521.5,424.5 L526.5,426 L521.5,427.5 L526.5,429" fill="none" stroke="#f2f2f2" stroke-width="1.1"/><circle cx="524" cy="432.8" r="2.8" fill="#1a1a1a" stroke="#f2f2f2" stroke-width="0.9"/><path d="M521.5,436.5 L526.5,438 M521.5,439.5 L526.5,441" fill="none" stroke="#f2f2f2" stroke-width="1"/><circle cx="438.9" cy="517.2" r="18.4" fill="#6d6d6d" stroke="#1a1a1a" stroke-width="1.3"/><rect x="433.9" y="510.6" width="10" height="13.6" fill="none" stroke="#f2f2f2" stroke-width="1.3"/><line x1="438.9" y1="504.2" x2="438.9" y2="530.2" stroke="#f2f2f2" stroke-width="1.3"/><circle cx="501.1" cy="517.2" r="18.4" fill="#6d6d6d" stroke="#1a1a1a" stroke-width="1.3"/><rect x="496.1" y="510.6" width="10" height="13.6" fill="none" stroke="#f2f2f2" stroke-width="1.3"/><line x1="501.1" y1="504.2" x2="501.1" y2="530.2" stroke="#f2f2f2" stroke-width="1.3"/><circle cx="470.3" cy="565.3" r="18.4" fill="#6d6d6d" stroke="#1a1a1a" stroke-width="1.3"/><rect x="465.3" y="558.7" width="10" height="13.6" fill="none" stroke="#f2f2f2" stroke-width="1.3"/><line x1="470.3" y1="552.3" x2="470.3" y2="578.3" stroke="#f2f2f2" stroke-width="1.3"/><rect x="414.5" y="558.9" width="8.4" height="12.7" fill="#fff"/><line x1="418.7" y1="554" x2="418.7" y2="577" stroke="#fff" stroke-width="1.3"/></g>
<text x="313 330.6 344.5 360.4" y="255.8" font-size="24.5" fill="#111">1021</text>
<text transform="translate(575.9,641.25) rotate(-90)" x="0 15.75 30.75 47.4" y="0" font-size="24.5" fill="#111">1336</text>
<text x="341.1 355.8 372.4 386.3" y="1177.2" font-size="24.5" fill="#111">1021</text>
<text transform="translate(604.2,1560.15) rotate(-90)" x="0 17.1 31.1 44.75" y="0" font-size="24.5" fill="#111">1336</text>
<g id="sld1"><line x1="697" y1="384" x2="1163.7" y2="384" stroke="#202020" stroke-width="1.6"/><line x1="734.9" y1="384" x2="734.9" y2="417.5" stroke="#202020" stroke-width="1.6"/><rect x="724.5" y="417.5" width="22" height="47" fill="none" stroke="#202020" stroke-width="1.6"/><line x1="724.5" y1="417.5" x2="746.5" y2="464.5" stroke="#202020" stroke-width="1.4"/><line x1="746.5" y1="417.5" x2="724.5" y2="464.5" stroke="#202020" stroke-width="1.4"/><line x1="734.9" y1="464.5" x2="734.9" y2="496.2" stroke="#202020" stroke-width="1.6"/><line x1="722.5" y1="496.2" x2="744.5" y2="496.2" stroke="#202020" stroke-width="1.6"/><line x1="726" y1="501.2" x2="741" y2="501.2" stroke="#202020" stroke-width="1.6"/><line x1="728.25" y1="506.8" x2="738.75" y2="506.8" stroke="#202020" stroke-width="1.6"/><line x1="731.5" y1="512.2" x2="735.5" y2="512.2" stroke="#202020" stroke-width="1.6"/><line x1="876.9" y1="384" x2="876.9" y2="438.4" stroke="#202020" stroke-width="1.6"/><line x1="869.9" y1="438.4" x2="883.9" y2="438.4" stroke="#202020" stroke-width="1.6"/><circle cx="876.9" cy="444.5" r="5.1" fill="none" stroke="#202020" stroke-width="1.5"/><line x1="855.1" y1="453" x2="876.9" y2="480.6" stroke="#202020" stroke-width="1.6"/><line x1="876.9" y1="480.6" x2="876.9" y2="769.1" stroke="#202020" stroke-width="1.6"/><path d="M870.7,717.3 L883.1,717.3 L876.9,728.5 Z" fill="#202020"/><line x1="800.4" y1="481.4" x2="842.3" y2="481.4" stroke="#202020" stroke-width="1.6"/><line x1="842.3" y1="477.2" x2="842.3" y2="485.6" stroke="#202020" stroke-width="1.6"/><line x1="800.4" y1="480.6" x2="800.4" y2="546.1" stroke="#202020" stroke-width="1.6"/><line x1="789.4" y1="546.1" x2="811.4" y2="546.1" stroke="#202020" stroke-width="1.6"/><line x1="792.9" y1="551.1" x2="807.9" y2="551.1" stroke="#202020" stroke-width="1.6"/><line x1="795.15" y1="556.7" x2="805.65" y2="556.7" stroke="#202020" stroke-width="1.6"/><line x1="798.4" y1="562.1" x2="802.4" y2="562.1" stroke="#202020" stroke-width="1.6"/><line x1="1019.6" y1="384" x2="1019.6" y2="438.4" stroke="#202020" stroke-width="1.6"/><line x1="1012.6" y1="438.4" x2="1026.6" y2="438.4" stroke="#202020" stroke-width="1.6"/><circle cx="1019.6" cy="444.5" r="5.1" fill="none" stroke="#202020" stroke-width="1.5"/><line x1="997.8" y1="453" x2="1019.6" y2="480.6" stroke="#202020" stroke-width="1.6"/><line x1="1019.6" y1="480.6" x2="1019.6" y2="769.1" stroke="#202020" stroke-width="1.6"/><path d="M1013.4,717.3 L1025.8,717.3 L1019.6,728.5 Z" fill="#202020"/><line x1="943.1" y1="481.4" x2="985" y2="481.4" stroke="#202020" stroke-width="1.6"/><line x1="985" y1="477.2" x2="985" y2="485.6" stroke="#202020" stroke-width="1.6"/><line x1="943.1" y1="480.6" x2="943.1" y2="546.1" stroke="#202020" stroke-width="1.6"/><line x1="932.1" y1="546.1" x2="954.1" y2="546.1" stroke="#202020" stroke-width="1.6"/><line x1="935.6" y1="551.1" x2="950.6" y2="551.1" stroke="#202020" stroke-width="1.6"/><line x1="937.85" y1="556.7" x2="948.35" y2="556.7" stroke="#202020" stroke-width="1.6"/><line x1="941.1" y1="562.1" x2="945.1" y2="562.1" stroke="#202020" stroke-width="1.6"/><line x1="1162.9" y1="384" x2="1162.9" y2="438.4" stroke="#202020" stroke-width="1.6"/><line x1="1155.9" y1="438.4" x2="1169.9" y2="438.4" stroke="#202020" stroke-width="1.6"/><circle cx="1162.9" cy="444.5" r="5.1" fill="none" stroke="#202020" stroke-width="1.5"/><line x1="1141.1" y1="453" x2="1162.9" y2="480.6" stroke="#202020" stroke-width="1.6"/><line x1="1162.9" y1="480.6" x2="1162.9" y2="769.1" stroke="#202020" stroke-width="1.6"/><path d="M1156.7,717.3 L1169.1,717.3 L1162.9,728.5 Z" fill="#202020"/><line x1="1086.4" y1="481.4" x2="1128.3" y2="481.4" stroke="#202020" stroke-width="1.6"/><line x1="1128.3" y1="477.2" x2="1128.3" y2="485.6" stroke="#202020" stroke-width="1.6"/><line x1="1086.4" y1="480.6" x2="1086.4" y2="546.1" stroke="#202020" stroke-width="1.6"/><line x1="1075.4" y1="546.1" x2="1097.4" y2="546.1" stroke="#202020" stroke-width="1.6"/><line x1="1078.9" y1="551.1" x2="1093.9" y2="551.1" stroke="#202020" stroke-width="1.6"/><line x1="1081.15" y1="556.7" x2="1091.65" y2="556.7" stroke="#202020" stroke-width="1.6"/><line x1="1084.4" y1="562.1" x2="1088.4" y2="562.1" stroke="#202020" stroke-width="1.6"/><path d="M1162.9,384 L1162.9,330.3 L1215.3,330.3" fill="none" stroke="#202020" stroke-width="1.6"/><path d="M1228,318.1 C1219.9,320.6 1215.8,325.3 1215.8,330.3 C1215.8,335.3 1219.9,339 1228,341.3" fill="none" stroke="#202020" stroke-width="1.6"/><rect x="1145.5" y="515.3" width="34.8" height="80.9" fill="none" stroke="#202020" stroke-width="1.6"/><path d="M1184.7,555.6 L1191.8,555.6 L1191.8,464.9 L1148.3,464.9 L1132.1,477.7 L1132.1,614" fill="none" stroke="#555" stroke-width="1.4" stroke-dasharray="1.5 3.7"/><path d="M1123.6,614.7 L1140.5,627 L1162.9,627" fill="none" stroke="#202020" stroke-width="1.6"/><line x1="1085.6" y1="627" x2="1119.1" y2="627" stroke="#202020" stroke-width="1.6"/><line x1="1119.1" y1="622.8" x2="1119.1" y2="631.2" stroke="#202020" stroke-width="1.6"/><line x1="1085.6" y1="626.2" x2="1085.6" y2="647.1" stroke="#202020" stroke-width="1.6"/><line x1="1074.6" y1="647.1" x2="1096.6" y2="647.1" stroke="#202020" stroke-width="1.6"/><line x1="1078.1" y1="652.1" x2="1093.1" y2="652.1" stroke="#202020" stroke-width="1.6"/><line x1="1080.35" y1="657.7" x2="1090.85" y2="657.7" stroke="#202020" stroke-width="1.6"/><line x1="1083.6" y1="663.1" x2="1087.6" y2="663.1" stroke="#202020" stroke-width="1.6"/></g>
<g id="sld2"><line x1="855.8" y1="1348.1" x2="1137.6" y2="1348.1" stroke="#202020" stroke-width="1.6"/><line x1="855.8" y1="1348.1" x2="855.8" y2="1403.4" stroke="#202020" stroke-width="1.6"/><line x1="848.8" y1="1403.4" x2="862.8" y2="1403.4" stroke="#202020" stroke-width="1.6"/><circle cx="855.8" cy="1409.5" r="5.1" fill="none" stroke="#202020" stroke-width="1.5"/><line x1="834" y1="1418" x2="855.8" y2="1445.6" stroke="#202020" stroke-width="1.6"/><line x1="855.8" y1="1445.6" x2="855.8" y2="1734.1" stroke="#202020" stroke-width="1.6"/><path d="M849.6,1682.3 L862,1682.3 L855.8,1693.5 Z" fill="#202020"/><line x1="780" y1="1446.4" x2="821.2" y2="1446.4" stroke="#202020" stroke-width="1.6"/><line x1="821.2" y1="1442.2" x2="821.2" y2="1450.6" stroke="#202020" stroke-width="1.6"/><line x1="780" y1="1445.6" x2="780" y2="1511.1" stroke="#202020" stroke-width="1.6"/><line x1="769" y1="1511.1" x2="791" y2="1511.1" stroke="#202020" stroke-width="1.6"/><line x1="772.5" y1="1516.1" x2="787.5" y2="1516.1" stroke="#202020" stroke-width="1.6"/><line x1="774.75" y1="1521.7" x2="785.25" y2="1521.7" stroke="#202020" stroke-width="1.6"/><line x1="778" y1="1527.1" x2="782" y2="1527.1" stroke="#202020" stroke-width="1.6"/><line x1="996.1" y1="1348.1" x2="996.1" y2="1403.4" stroke="#202020" stroke-width="1.6"/><line x1="989.1" y1="1403.4" x2="1003.1" y2="1403.4" stroke="#202020" stroke-width="1.6"/><circle cx="996.1" cy="1409.5" r="5.1" fill="none" stroke="#202020" stroke-width="1.5"/><line x1="974.3" y1="1418" x2="996.1" y2="1445.6" stroke="#202020" stroke-width="1.6"/><line x1="996.1" y1="1445.6" x2="996.1" y2="1734.1" stroke="#202020" stroke-width="1.6"/><path d="M989.9,1682.3 L1002.3,1682.3 L996.1,1693.5 Z" fill="#202020"/><line x1="920.3" y1="1446.4" x2="961.5" y2="1446.4" stroke="#202020" stroke-width="1.6"/><line x1="961.5" y1="1442.2" x2="961.5" y2="1450.6" stroke="#202020" stroke-width="1.6"/><line x1="920.3" y1="1445.6" x2="920.3" y2="1511.1" stroke="#202020" stroke-width="1.6"/><line x1="909.3" y1="1511.1" x2="931.3" y2="1511.1" stroke="#202020" stroke-width="1.6"/><line x1="912.8" y1="1516.1" x2="927.8" y2="1516.1" stroke="#202020" stroke-width="1.6"/><line x1="915.05" y1="1521.7" x2="925.55" y2="1521.7" stroke="#202020" stroke-width="1.6"/><line x1="918.3" y1="1527.1" x2="922.3" y2="1527.1" stroke="#202020" stroke-width="1.6"/><line x1="1137" y1="1348.1" x2="1137" y2="1403.4" stroke="#202020" stroke-width="1.6"/><line x1="1130" y1="1403.4" x2="1144" y2="1403.4" stroke="#202020" stroke-width="1.6"/><circle cx="1137" cy="1409.5" r="5.1" fill="none" stroke="#202020" stroke-width="1.5"/><line x1="1115.2" y1="1418" x2="1137" y2="1445.6" stroke="#202020" stroke-width="1.6"/><line x1="1137" y1="1445.6" x2="1137" y2="1734.1" stroke="#202020" stroke-width="1.6"/><path d="M1130.8,1682.3 L1143.2,1682.3 L1137,1693.5 Z" fill="#202020"/><line x1="1061.2" y1="1446.4" x2="1102.4" y2="1446.4" stroke="#202020" stroke-width="1.6"/><line x1="1102.4" y1="1442.2" x2="1102.4" y2="1450.6" stroke="#202020" stroke-width="1.6"/><line x1="1061.2" y1="1445.6" x2="1061.2" y2="1511.1" stroke="#202020" stroke-width="1.6"/><line x1="1050.2" y1="1511.1" x2="1072.2" y2="1511.1" stroke="#202020" stroke-width="1.6"/><line x1="1053.7" y1="1516.1" x2="1068.7" y2="1516.1" stroke="#202020" stroke-width="1.6"/><line x1="1055.95" y1="1521.7" x2="1066.45" y2="1521.7" stroke="#202020" stroke-width="1.6"/><line x1="1059.2" y1="1527.1" x2="1063.2" y2="1527.1" stroke="#202020" stroke-width="1.6"/><path d="M1137,1348.1 L1137,1295.3 L1189.4,1295.3" fill="none" stroke="#202020" stroke-width="1.6"/><path d="M1202.1,1283.1 C1194,1285.6 1189.9,1290.3 1189.9,1295.3 C1189.9,1300.3 1194,1304 1202.1,1306.3" fill="none" stroke="#202020" stroke-width="1.6"/><rect x="1119.6" y="1480.3" width="34.8" height="80.9" fill="none" stroke="#202020" stroke-width="1.6"/><path d="M1158.8,1520.6 L1165.9,1520.6 L1165.9,1429.9 L1122.4,1429.9 L1106.2,1442.7 L1106.2,1579" fill="none" stroke="#555" stroke-width="1.4" stroke-dasharray="1.5 3.7"/><path d="M1097.7,1579.7 L1114.6,1592 L1137,1592" fill="none" stroke="#202020" stroke-width="1.6"/><line x1="1059.7" y1="1592" x2="1093.2" y2="1592" stroke="#202020" stroke-width="1.6"/><line x1="1093.2" y1="1587.8" x2="1093.2" y2="1596.2" stroke="#202020" stroke-width="1.6"/><line x1="1059.7" y1="1591.2" x2="1059.7" y2="1612.1" stroke="#202020" stroke-width="1.6"/><line x1="1048.7" y1="1612.1" x2="1070.7" y2="1612.1" stroke="#202020" stroke-width="1.6"/><line x1="1052.2" y1="1617.1" x2="1067.2" y2="1617.1" stroke="#202020" stroke-width="1.6"/><line x1="1054.45" y1="1622.7" x2="1064.95" y2="1622.7" stroke="#202020" stroke-width="1.6"/><line x1="1057.7" y1="1628.1" x2="1061.7" y2="1628.1" stroke="#202020" stroke-width="1.6"/><line x1="816.5" y1="1553" x2="856" y2="1553" stroke="#202020" stroke-width="1.6"/><line x1="816.8" y1="1552.2" x2="816.8" y2="1586" stroke="#202020" stroke-width="1.6"/><rect x="806.5" y="1586" width="21.8" height="47.4" fill="none" stroke="#202020" stroke-width="1.6"/><line x1="806.5" y1="1586" x2="828.3" y2="1633.4" stroke="#202020" stroke-width="1.4"/><line x1="828.3" y1="1586" x2="806.5" y2="1633.4" stroke="#202020" stroke-width="1.4"/><line x1="816.8" y1="1633.4" x2="816.8" y2="1665.1" stroke="#202020" stroke-width="1.6"/><line x1="804.6" y1="1665.1" x2="826.6" y2="1665.1" stroke="#202020" stroke-width="1.6"/><line x1="808.1" y1="1670.1" x2="823.1" y2="1670.1" stroke="#202020" stroke-width="1.6"/><line x1="810.35" y1="1675.7" x2="820.85" y2="1675.7" stroke="#202020" stroke-width="1.6"/><line x1="813.6" y1="1681.1" x2="817.6" y2="1681.1" stroke="#202020" stroke-width="1.6"/></g>
</svg>
</body></html>
